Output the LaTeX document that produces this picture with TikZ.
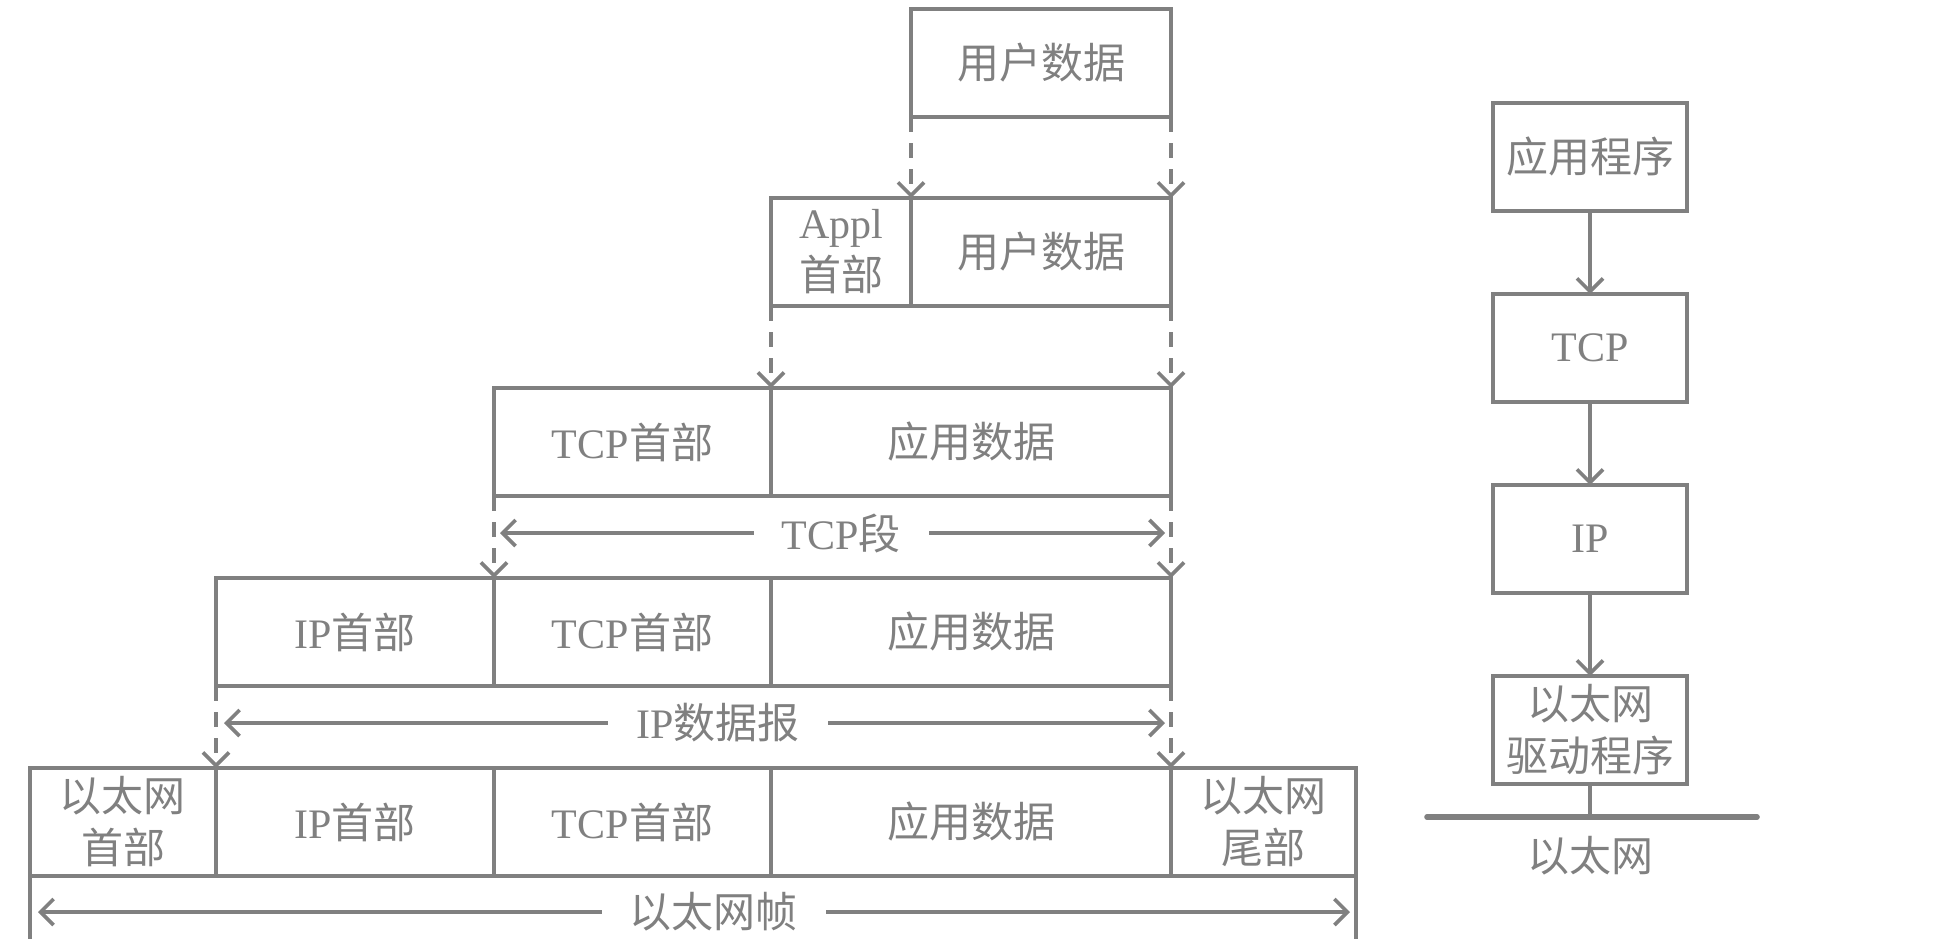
\documentclass[tikz,border=0pt]{standalone}
\usepackage{fontspec}
\setmainfont{Liberation Serif}
\newfontfamily\cjk{Noto Sans CJK SC}
\usetikzlibrary{arrows.meta,calc,positioning}
\definecolor{linegray}{RGB}{128,128,128}
\tikzset{
  >={Straight Barb[length=6.5pt,width=13pt]},
  txt/.style={text=linegray, align=center, font=\fontsize{21pt}{26pt}\selectfont},
  cell/.style={txt, draw=linegray, line width=1.8pt, minimum height=54pt,
    inner sep=0pt, outer sep=0pt},
  line/.style={draw=linegray, line width=1.8pt},
  flow/.style={line, dash pattern=on 7.5pt off 5.5pt, ->},
  span/.style={line, <->},
  lab/.style={txt, fill=white, inner xsep=14pt, inner ysep=2pt},
}
\begin{document}
\begin{tikzpicture}[x=0.5pt,y=-0.5pt]
  \useasboundingbox (0,0) rectangle (1956,938);
  % encapsulation, top to bottom
  \node[cell, minimum width=130pt] (u1) at (1041,63) {\cjk 用户数据};

  \node[cell, minimum width=70pt] (a2h) at (841,252) {Appl\\\cjk 首部};
  \node[cell, minimum width=130pt, right=0pt of a2h] (u2) {\cjk 用户数据};

  \node[cell, minimum width=138.5pt] (t3h) at (632.5,442) {TCP\cjk 首部};
  \node[cell, minimum width=200pt, right=0pt of t3h] (d3) {\cjk 应用数据};

  \node[cell, minimum width=139pt] (i4h) at (355,632) {IP\cjk 首部};
  \node[cell, minimum width=138.5pt, right=0pt of i4h] (t4h) {TCP\cjk 首部};
  \node[cell, minimum width=200pt, right=0pt of t4h] (d4) {\cjk 应用数据};

  \node[cell, minimum width=93pt] (e5h) at (123,822) {\cjk 以太网\\\cjk 首部};
  \node[cell, minimum width=139pt, right=0pt of e5h] (i5h) {IP\cjk 首部};
  \node[cell, minimum width=138.5pt, right=0pt of i5h] (t5h) {TCP\cjk 首部};
  \node[cell, minimum width=200pt, right=0pt of t5h] (d5) {\cjk 应用数据};
  \node[cell, minimum width=92.5pt, right=0pt of d5] (e5t) {\cjk 以太网\\\cjk 尾部};

  \draw[flow] (u1.south west) -- (u2.north west);
  \draw[flow] (u1.south east) -- (u2.north east);
  \draw[flow] (a2h.south west) -- (t3h.north east);
  \draw[flow] (u2.south east) -- (d3.north east);
  \draw[flow] (t3h.south west) -- (i4h.north east);
  \draw[flow] (d3.south east) -- (d4.north east);
  \draw[flow] (i4h.south west) -- (i5h.north west);
  \draw[flow] (d4.south east) -- (d5.north east);

  % lengths of the units
  \draw[span] ($(t3h.south west)+(6,37)$) -- node[lab, pos=0.513] {TCP\cjk 段} ($(d3.south east)+(-6,37)$);
  \draw[span] ($(i4h.south west)+(8,37)$) -- node[lab, pos=0.525] {IP\cjk 数据报} ($(d4.south east)+(-6,37)$);
  \draw[span] ($(e5h.south west)+(8,36)$) -- node[lab, pos=0.515] {\cjk 以太网帧} ($(e5t.south east)+(-6,36)$);
  \draw[line] (e5h.south west) -- ++(0,70);
  \draw[line] (e5t.south east) -- ++(0,70);

  % protocol stack
  \node[cell, minimum width=97pt] (app) at (1590,157) {\cjk 应用程序};
  \node[cell, minimum width=97pt, below=41.5pt of app] (tcp) {TCP};
  \node[cell, minimum width=97pt, below=41.5pt of tcp] (ip) {IP};
  \node[cell, minimum width=97pt, below=41.5pt of ip] (drv) {\cjk 以太网\\\cjk 驱动程序};
  \draw[line, ->] (app) -- (tcp);
  \draw[line, ->] (tcp) -- (ip);
  \draw[line, ->] (ip) -- (drv);

  \coordinate (ethl) at (1427,817);
  \coordinate (ethr) at (1757,817);
  \draw[line, line width=2.8pt, line cap=round] (ethl) -- (ethr);
  \draw[line] (drv.south) -- (drv.south |- ethl);
  \node[txt] (eth) at (1590,856) {\cjk 以太网};
\end{tikzpicture}
\end{document}
